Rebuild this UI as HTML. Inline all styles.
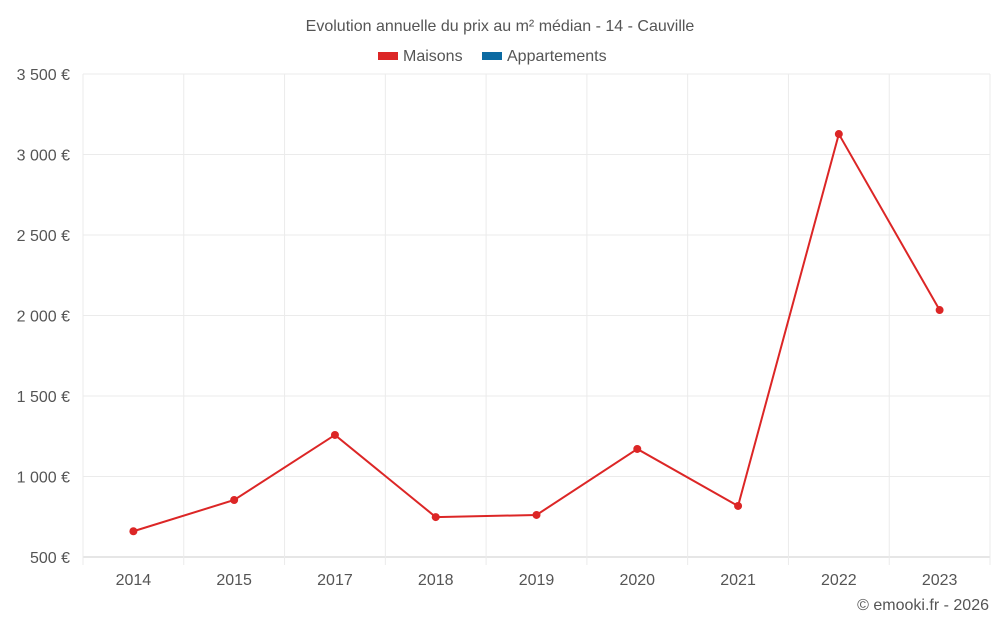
<!DOCTYPE html>
<html><head><meta charset="utf-8"><style>
body{margin:0;background:#fff;font-family:"Liberation Sans",sans-serif;}
svg text{font-family:"Liberation Sans",sans-serif;fill:#555;}
</style></head><body>
<svg id="chart" width="1000" height="625" xmlns="http://www.w3.org/2000/svg">
<text x="500" y="31" text-anchor="middle" font-size="16">Evolution annuelle du prix au m² médian - 14 - Cauville</text>
<g><rect x="378" y="52" width="20" height="8" fill="#d62728" fill-opacity="1" style="fill:#dc2626"/><text x="403" y="61" font-size="16">Maisons</text></g>
<g><rect x="482" y="52" width="20" height="8" fill="#0b6aa2"/><text x="507" y="61" font-size="16">Appartements</text></g>
<g id="grid"></g><g id="axes"></g><g id="series"></g>
<text x="989" y="610" text-anchor="end" font-size="16">© emooki.fr - 2026</text>
</svg>
<script>
const categories=["2014","2015","2017","2018","2019","2020","2021","2022","2023"];
const maisons=[660,854,1258,748,761,1171,817,3127,2034];
const yTicks=[500,1000,1500,2000,2500,3000,3500];
const yTickLabels=["500 €","1 000 €","1 500 €","2 000 €","2 500 €","3 000 €","3 500 €"];
const NS="http://www.w3.org/2000/svg";
const L=83,R=990,T=74,B=557;
const y=v=>B-(v-500)/3000*(B-T);
const bw=(R-L)/categories.length;
const x=i=>L+bw*(i+0.5);
function mk(t,a,p){const e=document.createElementNS(NS,t);for(const k in a)e.setAttribute(k,a[k]);p.appendChild(e);return e;}
const g=document.getElementById('grid'),ax=document.getElementById('axes'),s=document.getElementById('series');
yTicks.forEach((v,i)=>{
 const ln=mk('line',{x1:L,x2:R,y1:y(v),y2:y(v),stroke:i==0?'#ccc':'#ebebeb'},g);
 
 
 const t=mk('text',{x:70,y:y(v)+6,'text-anchor':'end','font-size':16},ax);
 t.textContent=yTickLabels[i];
 
 
});
for(let i=0;i<=categories.length;i++){
 const ln=mk('line',{x1:L+bw*i,x2:L+bw*i,y1:T,y2:B+8,stroke:'#ebebeb'},g);
 
 
}
categories.forEach((c,i)=>{
 const t=mk('text',{x:x(i),y:585,'text-anchor':'middle','font-size':16},ax);
 t.textContent=c;
 
 
});
const p=mk('polyline',{points:maisons.map((v,i)=>x(i)+','+y(v)).join(' '),fill:'none',stroke:'#dc2626','stroke-width':2},s);


maisons.forEach((v,i)=>{
 const c=mk('circle',{cx:x(i),cy:y(v),r:4,fill:'#dc2626'},s);
 
 
});
</script>
</body></html>
